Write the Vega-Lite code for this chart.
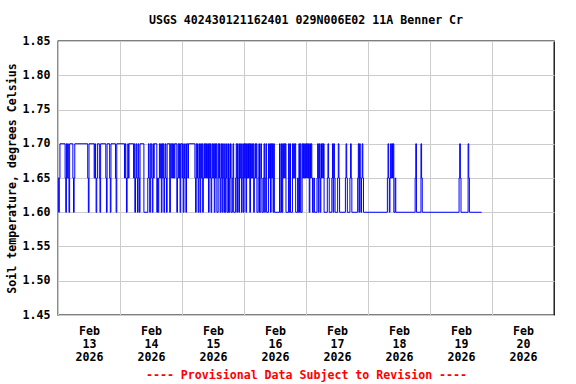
{
  "$schema": "https://vega.github.io/schema/vega-lite/v6.json",
  "autosize": {"type": "none"},
  "padding": {"left": 58, "top": 41, "right": 22, "bottom": 69},
  "width": 496,
  "height": 274,
  "background": "white",
  "title": {
    "text": "USGS 402430121162401 029N006E02 11A Benner Cr",
    "font": "DejaVu Sans Mono",
    "fontWeight": "bold",
    "fontSize": 11.6,
    "color": "black",
    "anchor": "middle",
    "baseline": "middle",
    "offset": 2
  },
  "config": {
    "view": {"stroke": "black", "strokeWidth": 1.3},
    "axis": {
      "labelFont": "DejaVu Sans Mono",
      "labelFontWeight": "bold",
      "labelFontSize": 11.6,
      "labelColor": "black",
      "titleFont": "DejaVu Sans Mono",
      "titleFontWeight": "bold",
      "titleFontSize": 11.6,
      "gridColor": "#cccccc",
      "gridWidth": 1,
      "gridOpacity": 1,
      "domain": false,
      "ticks": false
    }
  },
  "data": {
    "values": [
      {"t":"2026-02-13T00:00","v":1.65},{"t":"2026-02-13T00:15","v":1.60},{"t":"2026-02-13T00:30","v":1.65},{"t":"2026-02-13T00:45","v":1.70},
      {"t":"2026-02-13T02:45","v":1.65},{"t":"2026-02-13T03:00","v":1.60},{"t":"2026-02-13T03:15","v":1.70},{"t":"2026-02-13T03:30","v":1.65},
      {"t":"2026-02-13T03:45","v":1.70},{"t":"2026-02-13T04:00","v":1.65},{"t":"2026-02-13T04:15","v":1.60},{"t":"2026-02-13T04:30","v":1.70},
      {"t":"2026-02-13T05:45","v":1.65},{"t":"2026-02-13T06:00","v":1.60},{"t":"2026-02-13T06:15","v":1.65},{"t":"2026-02-13T06:30","v":1.70},
      {"t":"2026-02-13T11:30","v":1.65},{"t":"2026-02-13T11:45","v":1.60},{"t":"2026-02-13T12:00","v":1.70},{"t":"2026-02-13T14:00","v":1.65},
      {"t":"2026-02-13T14:15","v":1.70},{"t":"2026-02-13T14:30","v":1.65},{"t":"2026-02-13T14:45","v":1.60},{"t":"2026-02-13T15:00","v":1.65},
      {"t":"2026-02-13T15:15","v":1.70},{"t":"2026-02-13T16:00","v":1.65},{"t":"2026-02-13T16:15","v":1.60},{"t":"2026-02-13T16:30","v":1.70},
      {"t":"2026-02-13T18:30","v":1.65},{"t":"2026-02-13T18:45","v":1.60},{"t":"2026-02-13T19:00","v":1.70},{"t":"2026-02-13T20:00","v":1.65},
      {"t":"2026-02-13T20:15","v":1.60},{"t":"2026-02-13T20:30","v":1.70},{"t":"2026-02-13T22:15","v":1.65},{"t":"2026-02-13T22:30","v":1.60},
      {"t":"2026-02-13T22:45","v":1.70},
      {"t":"2026-02-14T01:45","v":1.65},{"t":"2026-02-14T02:00","v":1.70},{"t":"2026-02-14T02:15","v":1.65},{"t":"2026-02-14T02:30","v":1.60},
      {"t":"2026-02-14T02:45","v":1.65},{"t":"2026-02-14T03:00","v":1.70},{"t":"2026-02-14T03:15","v":1.65},{"t":"2026-02-14T03:30","v":1.70},
      {"t":"2026-02-14T05:15","v":1.65},{"t":"2026-02-14T05:30","v":1.70},{"t":"2026-02-14T05:45","v":1.60},{"t":"2026-02-14T06:00","v":1.65},
      {"t":"2026-02-14T06:15","v":1.70},{"t":"2026-02-14T06:30","v":1.65},{"t":"2026-02-14T06:45","v":1.60},{"t":"2026-02-14T07:00","v":1.70},
      {"t":"2026-02-14T07:15","v":1.65},{"t":"2026-02-14T07:30","v":1.60},{"t":"2026-02-14T07:45","v":1.70},{"t":"2026-02-14T09:15","v":1.60},
      {"t":"2026-02-14T10:45","v":1.65},{"t":"2026-02-14T11:00","v":1.70},{"t":"2026-02-14T11:15","v":1.65},{"t":"2026-02-14T11:30","v":1.60},
      {"t":"2026-02-14T11:45","v":1.70},{"t":"2026-02-14T12:15","v":1.65},{"t":"2026-02-14T12:30","v":1.60},{"t":"2026-02-14T12:45","v":1.70},
      {"t":"2026-02-14T13:00","v":1.65},{"t":"2026-02-14T13:15","v":1.70},{"t":"2026-02-14T14:15","v":1.60},{"t":"2026-02-14T14:30","v":1.65},
      {"t":"2026-02-14T14:45","v":1.60},{"t":"2026-02-14T15:00","v":1.65},{"t":"2026-02-14T15:15","v":1.70},{"t":"2026-02-14T15:30","v":1.65},
      {"t":"2026-02-14T15:45","v":1.70},{"t":"2026-02-14T16:00","v":1.60},{"t":"2026-02-14T16:15","v":1.70},{"t":"2026-02-14T16:30","v":1.65},
      {"t":"2026-02-14T16:45","v":1.70},{"t":"2026-02-14T17:00","v":1.60},{"t":"2026-02-14T17:15","v":1.65},{"t":"2026-02-14T17:30","v":1.70},
      {"t":"2026-02-14T17:45","v":1.65},{"t":"2026-02-14T18:00","v":1.60},{"t":"2026-02-14T18:15","v":1.70},{"t":"2026-02-14T19:15","v":1.60},
      {"t":"2026-02-14T19:30","v":1.70},{"t":"2026-02-14T20:00","v":1.65},{"t":"2026-02-14T20:15","v":1.70},{"t":"2026-02-14T20:30","v":1.65},
      {"t":"2026-02-14T20:45","v":1.70},{"t":"2026-02-14T21:00","v":1.65},{"t":"2026-02-14T21:15","v":1.70},{"t":"2026-02-14T22:00","v":1.60},
      {"t":"2026-02-14T22:15","v":1.65},{"t":"2026-02-14T22:30","v":1.70},{"t":"2026-02-14T22:45","v":1.65},{"t":"2026-02-14T23:00","v":1.70},
      {"t":"2026-02-14T23:15","v":1.60},{"t":"2026-02-14T23:30","v":1.70},
      {"t":"2026-02-15T00:00","v":1.65},{"t":"2026-02-15T00:15","v":1.70},{"t":"2026-02-15T00:30","v":1.60},{"t":"2026-02-15T00:45","v":1.65},
      {"t":"2026-02-15T01:00","v":1.70},{"t":"2026-02-15T01:15","v":1.65},{"t":"2026-02-15T01:30","v":1.60},{"t":"2026-02-15T01:45","v":1.70},
      {"t":"2026-02-15T02:15","v":1.65},{"t":"2026-02-15T02:30","v":1.70},{"t":"2026-02-15T05:00","v":1.65},{"t":"2026-02-15T05:15","v":1.60},
      {"t":"2026-02-15T05:30","v":1.70},{"t":"2026-02-15T05:45","v":1.65},{"t":"2026-02-15T06:00","v":1.70},{"t":"2026-02-15T06:15","v":1.60},
      {"t":"2026-02-15T06:30","v":1.65},{"t":"2026-02-15T06:45","v":1.70},{"t":"2026-02-15T07:00","v":1.60},{"t":"2026-02-15T07:15","v":1.70},
      {"t":"2026-02-15T07:30","v":1.65},{"t":"2026-02-15T07:45","v":1.70},{"t":"2026-02-15T08:00","v":1.60},{"t":"2026-02-15T08:15","v":1.65},
      {"t":"2026-02-15T08:30","v":1.70},{"t":"2026-02-15T08:45","v":1.65},{"t":"2026-02-15T09:00","v":1.70},{"t":"2026-02-15T09:15","v":1.65},
      {"t":"2026-02-15T09:30","v":1.70},{"t":"2026-02-15T09:45","v":1.65},{"t":"2026-02-15T10:00","v":1.70},{"t":"2026-02-15T10:15","v":1.60},
      {"t":"2026-02-15T10:30","v":1.70},{"t":"2026-02-15T10:45","v":1.65},{"t":"2026-02-15T11:00","v":1.70},{"t":"2026-02-15T11:15","v":1.60},
      {"t":"2026-02-15T11:30","v":1.65},{"t":"2026-02-15T11:45","v":1.70},{"t":"2026-02-15T12:00","v":1.65},{"t":"2026-02-15T12:15","v":1.70},
      {"t":"2026-02-15T12:30","v":1.60},{"t":"2026-02-15T12:45","v":1.70},{"t":"2026-02-15T13:00","v":1.65},{"t":"2026-02-15T13:15","v":1.70},
      {"t":"2026-02-15T13:30","v":1.60},{"t":"2026-02-15T14:00","v":1.70},{"t":"2026-02-15T14:15","v":1.65},{"t":"2026-02-15T14:30","v":1.70},
      {"t":"2026-02-15T14:45","v":1.60},{"t":"2026-02-15T15:00","v":1.65},{"t":"2026-02-15T15:15","v":1.70},{"t":"2026-02-15T15:30","v":1.60},
      {"t":"2026-02-15T15:45","v":1.70},{"t":"2026-02-15T16:00","v":1.65},{"t":"2026-02-15T16:15","v":1.60},{"t":"2026-02-15T16:30","v":1.70},
      {"t":"2026-02-15T16:45","v":1.60},{"t":"2026-02-15T17:00","v":1.65},{"t":"2026-02-15T17:15","v":1.70},{"t":"2026-02-15T17:30","v":1.60},
      {"t":"2026-02-15T18:00","v":1.70},{"t":"2026-02-15T18:15","v":1.60},{"t":"2026-02-15T18:30","v":1.65},{"t":"2026-02-15T18:45","v":1.70},
      {"t":"2026-02-15T19:00","v":1.60},{"t":"2026-02-15T19:30","v":1.65},{"t":"2026-02-15T19:45","v":1.70},{"t":"2026-02-15T20:00","v":1.60},
      {"t":"2026-02-15T20:45","v":1.65},{"t":"2026-02-15T21:00","v":1.70},{"t":"2026-02-15T21:15","v":1.60},{"t":"2026-02-15T21:30","v":1.70},
      {"t":"2026-02-15T21:45","v":1.65},{"t":"2026-02-15T22:00","v":1.60},{"t":"2026-02-15T22:15","v":1.70},{"t":"2026-02-15T22:30","v":1.65},
      {"t":"2026-02-15T22:45","v":1.70},{"t":"2026-02-15T23:00","v":1.60},{"t":"2026-02-15T23:15","v":1.65},{"t":"2026-02-15T23:30","v":1.70},
      {"t":"2026-02-15T23:45","v":1.60},
      {"t":"2026-02-16T00:00","v":1.70},{"t":"2026-02-16T00:15","v":1.65},{"t":"2026-02-16T00:30","v":1.70},{"t":"2026-02-16T00:45","v":1.60},
      {"t":"2026-02-16T01:00","v":1.70},{"t":"2026-02-16T01:15","v":1.65},{"t":"2026-02-16T01:30","v":1.70},{"t":"2026-02-16T01:45","v":1.65},
      {"t":"2026-02-16T02:00","v":1.70},{"t":"2026-02-16T02:15","v":1.60},{"t":"2026-02-16T02:30","v":1.70},{"t":"2026-02-16T02:45","v":1.65},
      {"t":"2026-02-16T03:00","v":1.70},{"t":"2026-02-16T03:15","v":1.65},{"t":"2026-02-16T03:30","v":1.70},{"t":"2026-02-16T03:45","v":1.60},
      {"t":"2026-02-16T04:00","v":1.65},{"t":"2026-02-16T04:15","v":1.70},{"t":"2026-02-16T04:30","v":1.65},{"t":"2026-02-16T04:45","v":1.70},
      {"t":"2026-02-16T05:00","v":1.60},{"t":"2026-02-16T05:30","v":1.65},{"t":"2026-02-16T05:45","v":1.70},{"t":"2026-02-16T06:00","v":1.60},
      {"t":"2026-02-16T06:30","v":1.70},{"t":"2026-02-16T06:45","v":1.65},{"t":"2026-02-16T07:00","v":1.60},{"t":"2026-02-16T07:30","v":1.65},
      {"t":"2026-02-16T07:45","v":1.70},{"t":"2026-02-16T08:00","v":1.60},{"t":"2026-02-16T08:15","v":1.65},{"t":"2026-02-16T08:30","v":1.70},
      {"t":"2026-02-16T08:45","v":1.60},{"t":"2026-02-16T09:30","v":1.70},{"t":"2026-02-16T09:45","v":1.65},{"t":"2026-02-16T10:00","v":1.70},
      {"t":"2026-02-16T10:15","v":1.60},{"t":"2026-02-16T10:30","v":1.70},{"t":"2026-02-16T10:45","v":1.65},{"t":"2026-02-16T11:00","v":1.70},
      {"t":"2026-02-16T11:15","v":1.60},{"t":"2026-02-16T11:30","v":1.70},{"t":"2026-02-16T11:45","v":1.60},{"t":"2026-02-16T13:45","v":1.70},
      {"t":"2026-02-16T14:00","v":1.60},{"t":"2026-02-16T14:30","v":1.70},{"t":"2026-02-16T14:45","v":1.60},{"t":"2026-02-16T15:00","v":1.70},
      {"t":"2026-02-16T15:15","v":1.65},{"t":"2026-02-16T15:30","v":1.70},{"t":"2026-02-16T15:45","v":1.65},{"t":"2026-02-16T16:00","v":1.70},
      {"t":"2026-02-16T16:15","v":1.60},{"t":"2026-02-16T17:15","v":1.70},{"t":"2026-02-16T17:30","v":1.60},{"t":"2026-02-16T17:45","v":1.70},
      {"t":"2026-02-16T18:00","v":1.60},{"t":"2026-02-16T18:45","v":1.70},{"t":"2026-02-16T19:00","v":1.65},{"t":"2026-02-16T19:15","v":1.70},
      {"t":"2026-02-16T19:30","v":1.65},{"t":"2026-02-16T19:45","v":1.70},{"t":"2026-02-16T20:00","v":1.60},{"t":"2026-02-16T20:45","v":1.65},
      {"t":"2026-02-16T21:00","v":1.60},{"t":"2026-02-16T21:15","v":1.70},{"t":"2026-02-16T21:30","v":1.60},{"t":"2026-02-16T21:45","v":1.70},
      {"t":"2026-02-16T22:00","v":1.60},{"t":"2026-02-16T22:30","v":1.70},{"t":"2026-02-16T22:45","v":1.65},{"t":"2026-02-16T23:00","v":1.70},
      {"t":"2026-02-16T23:15","v":1.65},{"t":"2026-02-16T23:30","v":1.70},{"t":"2026-02-16T23:45","v":1.65},
      {"t":"2026-02-17T00:00","v":1.70},{"t":"2026-02-17T00:15","v":1.65},{"t":"2026-02-17T00:30","v":1.70},{"t":"2026-02-17T00:45","v":1.65},
      {"t":"2026-02-17T01:00","v":1.70},{"t":"2026-02-17T01:15","v":1.60},{"t":"2026-02-17T01:30","v":1.70},{"t":"2026-02-17T01:45","v":1.65},
      {"t":"2026-02-17T02:00","v":1.70},{"t":"2026-02-17T02:15","v":1.65},{"t":"2026-02-17T02:30","v":1.60},{"t":"2026-02-17T03:00","v":1.65},
      {"t":"2026-02-17T03:15","v":1.60},{"t":"2026-02-17T04:15","v":1.65},{"t":"2026-02-17T04:30","v":1.70},{"t":"2026-02-17T04:45","v":1.60},
      {"t":"2026-02-17T05:00","v":1.70},{"t":"2026-02-17T05:15","v":1.65},{"t":"2026-02-17T05:30","v":1.60},{"t":"2026-02-17T05:45","v":1.70},
      {"t":"2026-02-17T06:00","v":1.65},{"t":"2026-02-17T06:15","v":1.70},{"t":"2026-02-17T06:30","v":1.65},{"t":"2026-02-17T06:45","v":1.70},
      {"t":"2026-02-17T07:00","v":1.60},{"t":"2026-02-17T08:15","v":1.65},{"t":"2026-02-17T08:30","v":1.70},{"t":"2026-02-17T08:45","v":1.65},
      {"t":"2026-02-17T09:00","v":1.60},{"t":"2026-02-17T10:00","v":1.65},{"t":"2026-02-17T10:15","v":1.70},{"t":"2026-02-17T10:30","v":1.60},
      {"t":"2026-02-17T10:45","v":1.70},{"t":"2026-02-17T11:00","v":1.65},{"t":"2026-02-17T11:15","v":1.60},{"t":"2026-02-17T12:15","v":1.65},
      {"t":"2026-02-17T12:30","v":1.70},{"t":"2026-02-17T12:45","v":1.65},{"t":"2026-02-17T13:00","v":1.60},{"t":"2026-02-17T15:15","v":1.65},
      {"t":"2026-02-17T15:30","v":1.70},{"t":"2026-02-17T15:45","v":1.65},{"t":"2026-02-17T16:00","v":1.60},{"t":"2026-02-17T17:00","v":1.65},
      {"t":"2026-02-17T17:15","v":1.70},{"t":"2026-02-17T17:30","v":1.65},{"t":"2026-02-17T17:45","v":1.60},{"t":"2026-02-17T20:00","v":1.65},
      {"t":"2026-02-17T20:15","v":1.70},{"t":"2026-02-17T20:30","v":1.60},{"t":"2026-02-17T20:45","v":1.70},{"t":"2026-02-17T21:00","v":1.65},
      {"t":"2026-02-17T21:15","v":1.60},{"t":"2026-02-17T21:30","v":1.65},{"t":"2026-02-17T21:45","v":1.70},{"t":"2026-02-17T22:00","v":1.65},
      {"t":"2026-02-17T22:15","v":1.60},
      {"t":"2026-02-18T07:30","v":1.65},{"t":"2026-02-18T07:45","v":1.70},{"t":"2026-02-18T08:00","v":1.65},{"t":"2026-02-18T08:15","v":1.60},
      {"t":"2026-02-18T08:30","v":1.65},{"t":"2026-02-18T08:45","v":1.70},{"t":"2026-02-18T09:00","v":1.65},{"t":"2026-02-18T09:15","v":1.70},
      {"t":"2026-02-18T09:30","v":1.65},{"t":"2026-02-18T09:45","v":1.70},{"t":"2026-02-18T10:00","v":1.60},{"t":"2026-02-18T10:30","v":1.65},
      {"t":"2026-02-18T10:45","v":1.60},{"t":"2026-02-18T18:15","v":1.65},{"t":"2026-02-18T18:30","v":1.70},{"t":"2026-02-18T18:45","v":1.60},
      {"t":"2026-02-18T20:30","v":1.70},{"t":"2026-02-18T20:45","v":1.65},{"t":"2026-02-18T21:00","v":1.60},
      {"t":"2026-02-19T11:15","v":1.65},{"t":"2026-02-19T11:30","v":1.70},{"t":"2026-02-19T11:45","v":1.65},{"t":"2026-02-19T12:00","v":1.60},
      {"t":"2026-02-19T14:45","v":1.70},{"t":"2026-02-19T15:00","v":1.65},{"t":"2026-02-19T15:15","v":1.60},{"t":"2026-02-19T20:00","v":1.60}
    ]
  },
  "mark": {"type": "line", "interpolate": "step-after", "color": "#0000ff", "strokeWidth": 1, "clip": true},
  "encoding": {
    "x": {
      "field": "t",
      "type": "temporal",
      "scale": {
        "domain": [
          {"year": 2026, "month": 2, "date": 13, "hours": 0},
          {"year": 2026, "month": 2, "date": 21, "hours": 0}
        ],
        "nice": false
      },
      "axis": {
        "values": [
          {"year": 2026, "month": 2, "date": 13},
          {"year": 2026, "month": 2, "date": 14},
          {"year": 2026, "month": 2, "date": 15},
          {"year": 2026, "month": 2, "date": 16},
          {"year": 2026, "month": 2, "date": 17},
          {"year": 2026, "month": 2, "date": 18},
          {"year": 2026, "month": 2, "date": 19},
          {"year": 2026, "month": 2, "date": 20}
        ],
        "labelExpr": "[timeFormat(datum.value, '%b'), timeFormat(datum.value, '%d'), timeFormat(datum.value, '%Y')]",
        "labelOffset": 31,
        "labelAlign": "center",
        "labelBaseline": "top",
        "labelPadding": 10,
        "labelLineHeight": 13,
        "labelOverlap": false,
        "labelFlush": false,
        "labelBound": false,
        "grid": true,
        "title": "---- Provisional Data Subject to Revision ----",
        "titleColor": "#ff0000",
        "titleX": 248,
        "titleY": 60,
        "titleAlign": "center",
        "titleBaseline": "middle",
        "titleAnchor": null
      }
    },
    "y": {
      "field": "v",
      "type": "quantitative",
      "scale": {"domain": [1.45, 1.85], "nice": false, "zero": false},
      "axis": {
        "values": [1.45, 1.5, 1.55, 1.6, 1.65, 1.7, 1.75, 1.8, 1.85],
        "format": ".2f",
        "labelPadding": 8,
        "labelFlush": false,
        "labelOverlap": false,
        "grid": true,
        "title": "Soil temperature, degrees Celsius",
        "titleColor": "black",
        "titleAngle": -90,
        "titleX": -46,
        "titleY": 137,
        "titleAlign": "center",
        "titleBaseline": "middle"
      }
    }
  }
}
